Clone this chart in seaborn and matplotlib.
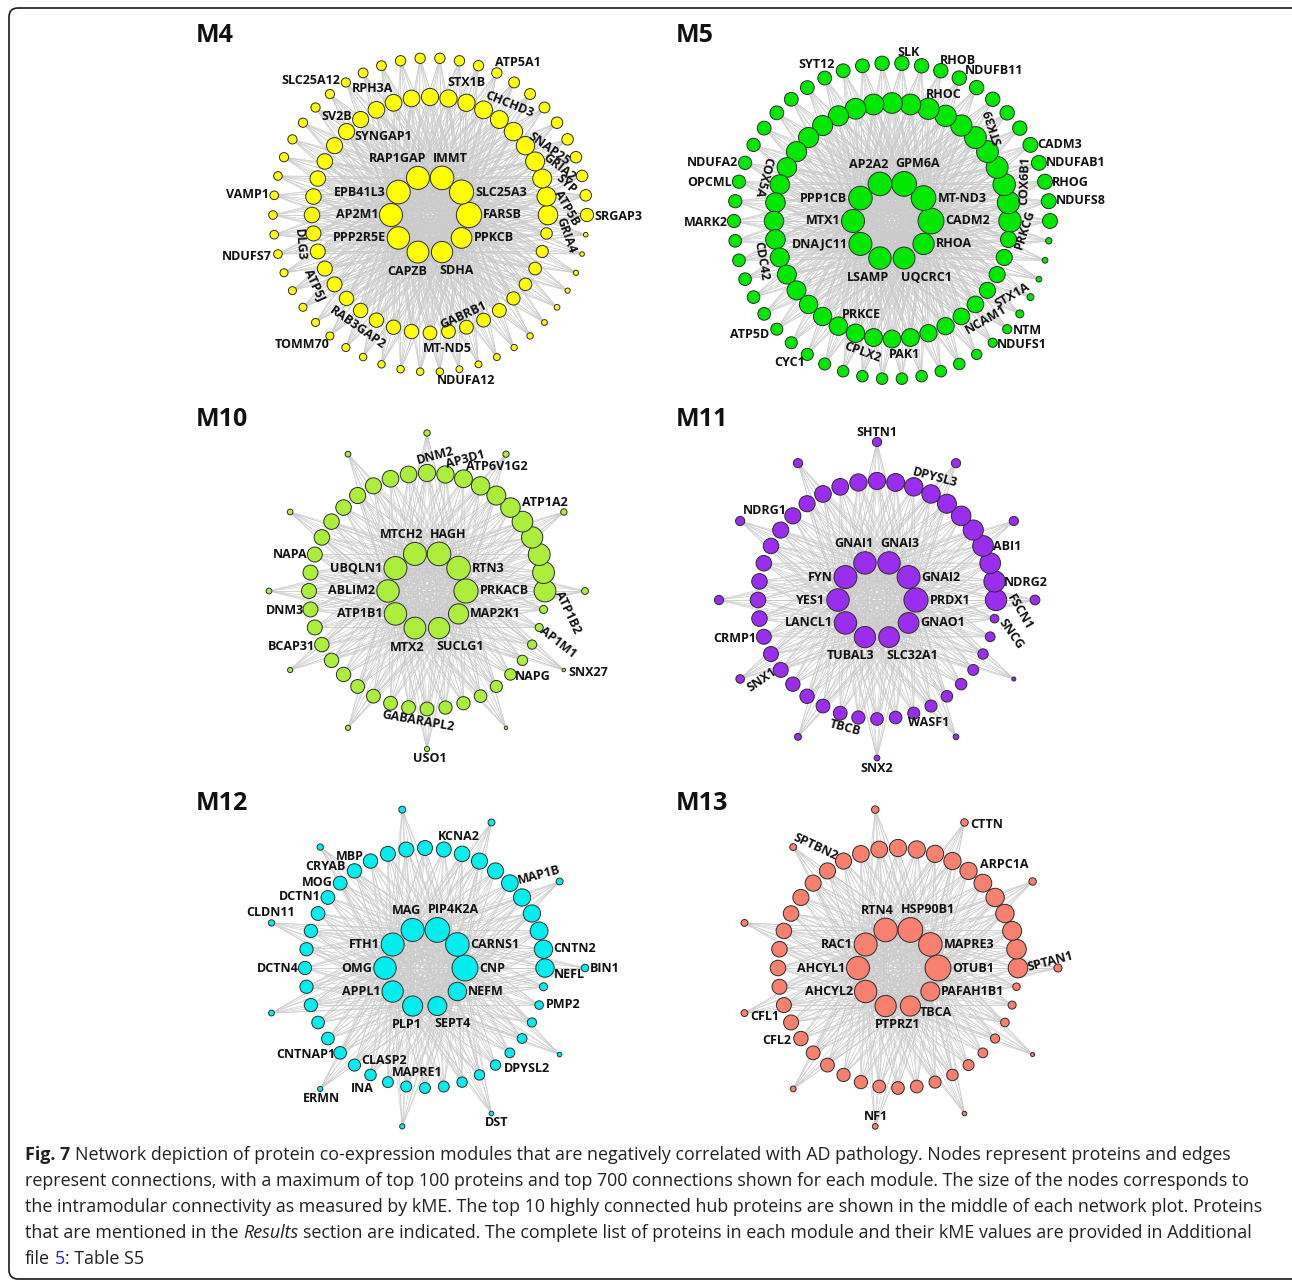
import numpy as np
import pandas as pd
import matplotlib
matplotlib.use("Agg")
import matplotlib.pyplot as plt
import seaborn as sns
from matplotlib.collections import LineCollection
from matplotlib.patches import FancyBboxPatch

# ---------------- data (hubs listed from 0 deg going counter-clockwise) ----------------
# node sizes = kME-scaled node diameters (px)
m4_hubs = ['FARSB', 'SLC25A3', 'IMMT', 'RAP1GAP', 'EPB41L3', 'AP2M1', 'PPP2R5E', 'CAPZB', 'SDHA', 'PPKCB']
m4_hub_size = [22, 21, 20.5, 20, 20.5, 20, 19.5, 19, 18.5, 18]
m4_mid_size = [17, 16.5, 16.5, 16.5, 16, 16, 15.5, 15.5, 15, 15, 15, 14.5, 14.5, 14.5, 14, 14, 14, 13.5, 13.5, 13.5,
               13.5, 13, 13, 13, 13, 12.5, 12.5, 12.5, 12.5, 12.5, 12, 12, 12, 12, 12, 11.5, 11, 11, 10.5, 10]
m4_out_size = [11.5, 10, 10, 10, 10, 10, 9.5, 9.5, 9.5, 9, 9, 9, 9, 9, 9, 8.5, 8.5, 8, 8, 8, 8, 8, 8, 7.5, 7.5,
               7.5, 7.5, 7.5, 7, 7, 7, 7, 7, 7, 6.5, 6.5, 6.5, 6.5, 6.5, 6, 6, 6, 5.5, 5.5, 5, 5, 4.5, 4.5, 4, 4]
m4_tags = ['ATP5A1', 'SLC25A12', 'RPH3A', 'STX1B', 'CHCHD3', 'SV2B', 'SYNGAP1', 'SNAP25', 'GRIA2', 'SYP', 'ATP5B',
           'GRIA4', 'SRGAP3', 'VAMP1', 'NDUFS7', 'DLG3', 'ATP5J', 'RAB3GAP2', 'TOMM70', 'GABRB1', 'MT-ND5', 'NDUFA12']

m5_hubs = ['CADM2', 'MT-ND3', 'GPM6A', 'AP2A2', 'PPP1CB', 'MTX1', 'DNAJC11', 'LSAMP', 'UQCRC1', 'RHOA']
m5_hub_size = [22.5, 21.5, 21.5, 20.5, 20.5, 20, 20, 19.5, 19, 18.5]
m5_mid_size = [19.5, 19.5, 19.5, 19, 19, 19, 18.5, 18.5, 18.5, 18, 18, 18, 18, 17.5, 17.5, 17.5, 17.5, 17, 17, 17,
               17, 17, 16.5, 16.5, 16.5, 16, 16, 16, 16, 15.5, 15.5, 15.5, 15, 15, 14.5, 14.5, 14, 14, 14, 14]
m5_out_size = [13, 13, 13, 13, 13, 12.5, 12.5, 12.5, 12.5, 12.5, 12.5, 12.5, 12.5, 12.5, 12, 12, 12, 12, 12, 12,
               12, 11.5, 11.5, 11.5, 11.5, 11.5, 11, 11, 11, 11, 11, 10.5, 10.5, 10.5, 10.5, 10, 10, 10, 10, 10,
               10, 10, 9, 8, 8, 7, 6, 5, 5, 5.5]
m5_tags = ['SLK', 'SYT12', 'RHOB', 'NDUFB11', 'RHOC', 'STK39', 'CADM3', 'NDUFAB1', 'RHOG', 'NDUFS8', 'COX6B1',
           'PRKCG', 'NDUFA2', 'OPCML', 'COX5A', 'MARK2', 'CDC42', 'PRKCE', 'CPLX2', 'PAK1', 'NCAM1', 'STX1A',
           'NTM', 'NDUFS1', 'ATP5D', 'CYC1']

m10_hubs = ['PRKACB', 'RTN3', 'HAGH', 'MTCH2', 'UBQLN1', 'ABLIM2', 'ATP1B1', 'MTX2', 'SUCLG1', 'MAP2K1']
m10_hub_size = [21, 20.5, 20.5, 20, 20, 19.5, 19.5, 19, 18.5, 17.5]
m10_mid_size = [19, 19, 19, 18.5, 18, 17, 16.5, 16, 15.5, 15, 15, 14.5, 14.5, 14, 14, 13.5, 13.5, 13.5, 13, 13,
                13, 13, 13, 12.5, 12.5, 12.5, 12, 12, 12, 12, 12, 11.5, 11.5, 11, 10.5, 10, 9, 8, 7, 7]
m10_out_size = [6, 5.5, 5.5, 5.5, 5, 5, 5, 4.5, 4.5, 4.5, 3, 3]
m10_tags = ['DNM2', 'AP3D1', 'ATP6V1G2', 'ATP1A2', 'NAPA', 'DNM3', 'BCAP31', 'ATP1B2', 'AP1M1', 'SNX27', 'NAPG',
            'GABARAPL2', 'USO1']

m11_hubs = ['PRDX1', 'GNAI2', 'GNAI3', 'GNAI1', 'FYN', 'YES1', 'LANCL1', 'TUBAL3', 'SLC32A1', 'GNAO1']
m11_hub_size = [21, 20, 19.5, 19.5, 20, 19.5, 19.5, 18.5, 18, 18]
m11_mid_size = [18.5, 18.5, 18, 18, 17.5, 17, 16.5, 16, 16, 15.5, 15, 15, 14.5, 14.5, 14, 14, 14, 13.5, 13.5, 13.5,
                13.5, 13.5, 13, 13, 13, 12.5, 12.5, 12, 12, 11.5, 11, 11, 10.5, 10.5, 10, 10, 9.5, 9, 8.5, 7.5]
m11_out_size = [8.5, 8, 8, 8, 8, 8, 8, 7.5, 6, 5, 5, 3.5]
m11_tags = ['SHTN1', 'DPYSL3', 'NDRG1', 'ABI1', 'NDRG2', 'FSCN1', 'SNCG', 'CRMP1', 'SNX1', 'TBCB', 'WASF1', 'SNX2']

m12_hubs = ['CNP', 'CARNS1', 'PIP4K2A', 'MAG', 'FTH1', 'OMG', 'APPL1', 'PLP1', 'SEPT4', 'NEFM']
m12_hub_size = [22.5, 20.5, 21.5, 20, 20, 19.5, 18.5, 17.5, 16.5, 16]
m12_mid_size = [16, 16, 15.5, 15, 15, 14.5, 14, 14, 13.5, 13, 13, 13, 13, 12.5, 12.5, 12, 12, 12, 11.5, 11.5,
                11.5, 11.5, 11.5, 11, 11, 11, 10.5, 10, 9.5, 9.5, 9.5, 9.5, 9, 9, 9, 8.5, 8.5, 8, 7.5, 7]
m12_out_size = [6.5, 6, 6, 6, 5.5, 5.5, 5, 4.5, 4.5, 4, 4]
m12_tags = ['KCNA2', 'MBP', 'CRYAB', 'MOG', 'MAP1B', 'DCTN1', 'CLDN11', 'CNTN2', 'NEFL', 'BIN1', 'DCTN4', 'PMP2',
            'CNTNAP1', 'CLASP2', 'DPYSL2', 'INA', 'MAPRE1', 'ERMN', 'DST']

m13_hubs = ['OTUB1', 'MAPRE3', 'HSP90B1', 'RTN4', 'RAC1', 'AHCYL1', 'AHCYL2', 'PTPRZ1', 'TBCA', 'PAFAH1B1']
m13_hub_size = [22.5, 20.5, 21.5, 20.5, 20, 20, 19.5, 18.5, 17.5, 16.5]
m13_mid_size = [17, 17, 16.5, 16, 16, 15.5, 15, 15, 15, 15, 15, 14.5, 14.5, 14, 14, 14, 14, 13.5, 13.5, 13.5,
                13.5, 13, 13, 13, 12.5, 12, 12, 11.5, 11.5, 11, 11, 11, 10.5, 10, 9.5, 8.5, 8, 7.5, 7, 6.5]
m13_out_size = [7, 6.5, 6.5, 6.5, 6, 6, 6, 5, 5, 4, 3.5]
m13_tags = ['CTTN', 'SPTBN2', 'ARPC1A', 'SPTAN1', 'CFL1', 'CFL2', 'NF1']

modules = {
    'M4': (m4_hubs, m4_hub_size, m4_mid_size, m4_out_size, m4_tags),
    'M5': (m5_hubs, m5_hub_size, m5_mid_size, m5_out_size, m5_tags),
    'M10': (m10_hubs, m10_hub_size, m10_mid_size, m10_out_size, m10_tags),
    'M11': (m11_hubs, m11_hub_size, m11_mid_size, m11_out_size, m11_tags),
    'M12': (m12_hubs, m12_hub_size, m12_mid_size, m12_out_size, m12_tags),
    'M13': (m13_hubs, m13_hub_size, m13_mid_size, m13_out_size, m13_tags),
}

# ---------------- layout / style ----------------
colors = {'M4': '#FFFF00', 'M5': '#00E800', 'M10': '#ABEF3C', 'M11': '#9B2DEE', 'M12': '#00EEEE', 'M13': '#F8806F'}
centers = {'M4': (430, 215), 'M5': (892, 221), 'M10': (427, 591), 'M11': (877, 600), 'M12': (425, 968), 'M13': (898, 968)}
radii = {'M4': (39, 118, 157), 'M5': (39, 118, 158), 'M10': (39, 118, 158), 'M11': (39, 119, 158),
         'M12': (40, 120, 160), 'M13': (40, 120, 160)}
title_pos = {'M4': (196, 35), 'M5': (676, 35), 'M10': (196, 419), 'M11': (676, 419), 'M12': (196, 803), 'M13': (676, 803)}
node_scale = 1.15  # drawn diameter vs. listed size

# text anchor (x, y, rotation) for peripheral tags and a couple of hub overrides
label_pos = {
    'ATP5A1': (518, 62, 0), 'SLC25A12': (311, 80, 0), 'RPH3A': (373, 89, 0), 'STX1B': (466, 83, 0),
    'CHCHD3': (509, 104, -22), 'SV2B': (337, 116, 0), 'SYNGAP1': (383, 136, 0), 'SNAP25': (549, 149, -35),
    'GRIA2': (559, 167, -37), 'SYP': (566, 184, -42), 'ATP5B': (567, 208, -60), 'GRIA4': (566, 235, -70),
    'SRGAP3': (618, 217, 0), 'VAMP1': (247, 195, 0), 'NDUFS7': (247, 257, 0), 'DLG3': (300, 245, -85),
    'ATP5J': (315, 285, -65), 'RAB3GAP2': (358, 328, -35), 'TOMM70': (302, 345, 0), 'GABRB1': (463, 315, 25),
    'MT-ND5': (447, 348, 0), 'NDUFA12': (466, 381, 0),
    'SLK': (908, 52, 0), 'SYT12': (817, 65, 0), 'RHOB': (958, 60, 0), 'NDUFB11': (994, 70, 0),
    'RHOC': (944, 95, 0), 'STK39': (993, 127, 108), 'CADM3': (1060, 145, 0), 'NDUFAB1': (1076, 163, 0),
    'RHOG': (1070, 182, 0), 'NDUFS8': (1081, 201, 0), 'COX6B1': (1025, 181, 88), 'PRKCG': (1025, 229, 72),
    'NDUFA2': (712, 163, 0), 'OPCML': (710, 182, 0), 'COX5A': (763, 177, -105), 'MARK2': (706, 222, 0),
    'CDC42': (761, 261, -80), 'PRKCE': (861, 315, 0), 'CPLX2': (862, 352, -20), 'PAK1': (904, 354, 0),
    'NCAM1': (986, 320, 30), 'STX1A': (1012, 295, 30), 'NTM': (1027, 330, 0), 'NDUFS1': (1022, 344, 0),
    'ATP5D': (750, 334, 0), 'CYC1': (790, 363, 0),
    'DNM2': (435, 456, 15), 'AP3D1': (465, 459, 15), 'ATP6V1G2': (497, 467, 0), 'ATP1A2': (545, 503, 0),
    'NAPA': (290, 555, 0), 'DNM3': (285, 611, 0), 'BCAP31': (291, 647, 0), 'ATP1B2': (568, 612, -65),
    'AP1M1': (558, 642, -38), 'SNX27': (588, 673, 0), 'NAPG': (533, 677, 0), 'GABARAPL2': (418, 721, -10),
    'USO1': (430, 759, 0),
    'SHTN1': (877, 432, 0), 'DPYSL3': (935, 478, -15), 'NDRG1': (765, 510, 0), 'ABI1': (1007, 547, 0),
    'NDRG2': (1026, 582, 0), 'FSCN1': (1020, 612, -60), 'SNCG': (1011, 634, -55), 'CRMP1': (735, 639, 0),
    'SNX1': (762, 680, 35), 'TBCB': (845, 728, -15), 'WASF1': (929, 723, 0), 'SNX2': (877, 769, 0),
    'KCNA2': (459, 837, 0), 'MBP': (350, 856, 0), 'CRYAB': (325, 867, 0), 'MOG': (317, 883, 0),
    'MAP1B': (539, 875, 15), 'DCTN1': (300, 896, 0), 'CLDN11': (271, 913, 0), 'CNTN2': (575, 949, 0),
    'NEFL': (569, 974, 0), 'BIN1': (605, 968, 0), 'DCTN4': (278, 968, 0), 'PMP2': (563, 1005, 0),
    'CNTNAP1': (306, 1054, 0), 'CLASP2': (384, 1061, 0), 'DPYSL2': (527, 1069, 0), 'INA': (362, 1088, 0),
    'MAPRE1': (417, 1073, 0), 'ERMN': (321, 1098, 0), 'DST': (497, 1122, 0),
    'CTTN': (987, 824, 0), 'SPTBN2': (815, 847, -25), 'ARPC1A': (1004, 865, 0), 'SPTAN1': (1050, 962, 15),
    'CFL1': (765, 1017, 0), 'CFL2': (777, 1041, 0), 'NF1': (876, 1117, 0),
    'PTPRZ1': (898, 1024, 0), 'TBCA': (936, 1013, 0),
}

sns.set_theme(style="white")
plt.rcParams['font.family'] = ['Open Sans', 'DejaVu Sans']

fig = plt.figure(figsize=(12.92, 12.8), dpi=100)
ax = fig.add_axes([0, 0, 1, 1])
ax.set_xlim(0, 1292)
ax.set_ylim(1280, 0)


def ring(cx, cy, r, n):
    a = np.deg2rad(np.arange(n) * 360.0 / n)
    return cx + r * np.cos(a), cy - r * np.sin(a)


lab_kw = dict(fontsize=9, fontweight='bold', color='#111111', zorder=5)

for mod, (hubs, hub_size, mid_size, out_size, tags) in modules.items():
    cx, cy = centers[mod]
    r0, r1, r2 = radii[mod]
    hx, hy = ring(cx, cy, r0, len(hub_size))
    mx, my = ring(cx, cy, r1, len(mid_size))
    ox, oy = ring(cx, cy, r2, len(out_size))

    nodes = pd.DataFrame({
        'x': np.concatenate([hx, mx, ox]),
        'y': np.concatenate([hy, my, oy]),
        'd': np.concatenate([hub_size, mid_size, out_size]).astype(float),
    })

    # connections: hubs fully linked, every other node linked to the hubs
    segs = []
    for i in range(len(hx)):
        for j in range(i + 1, len(hx)):
            segs.append([(hx[i], hy[i]), (hx[j], hy[j])])
    for x, y in zip(np.concatenate([mx, ox]), np.concatenate([my, oy])):
        for i in range(len(hx)):
            segs.append([(x, y), (hx[i], hy[i])])
    ax.add_collection(LineCollection(segs, colors='#cbcbcb', linewidths=0.45, zorder=1))

    sns.scatterplot(data=nodes, x='x', y='y', s=(nodes['d'].to_numpy() * node_scale * 0.72) ** 2,
                    color=colors[mod], edgecolor='#2b2b2b', linewidth=0.7, zorder=3,
                    legend=False, ax=ax)

    # hub labels
    for k, name in enumerate(hubs):
        if name in label_pos:
            continue
        ang = k * 36
        x, y, rad = hx[k], hy[k], hub_size[k] * node_scale / 2
        if ang in (0, 36, 324):
            ax.text(x + rad + 1.5, y, name, ha='left', va='center', **lab_kw)
        elif ang in (144, 180, 216):
            ax.text(x - rad - 1.5, y, name, ha='right', va='center', **lab_kw)
        elif ang == 72:
            ax.text(x - 9, y - rad - 8, name, ha='left', va='center', **lab_kw)
        elif ang == 108:
            ax.text(x + 8, y - rad - 8, name, ha='right', va='center', **lab_kw)
        elif ang == 252:
            ax.text(x + 9, y + rad + 8, name, ha='right', va='center', **lab_kw)
        else:
            ax.text(x - 3, y + rad + 8, name, ha='left', va='center', **lab_kw)

    for name in tags + [h for h in hubs if h in label_pos]:
        x, y, rot = label_pos[name]
        ax.text(x, y, name, ha='center', va='center', rotation=rot, rotation_mode='anchor', **lab_kw)

    tx, ty = title_pos[mod]
    ax.text(tx, ty, mod, ha='left', va='center', fontsize=18, fontweight='bold', color='#111111')

# frame
ax.add_patch(FancyBboxPatch((9, 8), 1300, 1271, boxstyle='round,pad=0,rounding_size=9',
                            fill=False, ec='#1a1a1a', lw=1.2, zorder=6))

# caption
fig.canvas.draw()
renderer = fig.canvas.get_renderer()
cap_col = '#231f20'
lines = [
    "Network depiction of protein co-expression modules that are negatively correlated with AD pathology. Nodes represent proteins and edges",
    "represent connections, with a maximum of top 100 proteins and top 700 connections shown for each module. The size of the nodes corresponds to",
    "the intramodular connectivity as measured by kME. The top 10 highly connected hub proteins are shown in the middle of each network plot. Proteins",
]


def measure(s, size):
    t = ax.text(600, 600, s, fontsize=size)
    w = t.get_window_extent(renderer).width
    t.remove()
    return w


fs = 12 * 1237 / measure(lines[2], 12)
sp = measure('a a', fs) - measure('aa', fs)


def put(x, y, s, **kw):
    t = ax.text(x, y, s, fontsize=fs, ha='left', va='center', color=kw.pop('color', cap_col), **kw)
    return t.get_window_extent(renderer).x1


ys = [1155, 1181, 1207, 1233, 1259]
x = put(25, ys[0], 'Fig. 7', fontweight='bold')
put(x + sp, ys[0], lines[0])
put(25, ys[1], lines[1])
put(25, ys[2], lines[2])
x = put(25, ys[3], 'that are mentioned in the')
x = put(x + sp, ys[3], 'Results', fontstyle='italic')
put(x + sp, ys[3], 'section are indicated. The complete list of proteins in each module and their kME values are provided in Additional')
x = put(25, ys[4], 'file')
x = put(x + sp, ys[4], '5', color='#2222dd')
put(x, ys[4], ': Table S5')

ax.set_axis_off()
fig.savefig('out.png', dpi=100)
